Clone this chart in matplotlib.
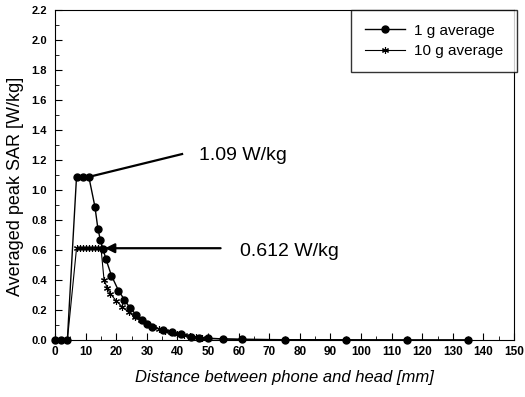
import matplotlib
matplotlib.use("Agg")
from matplotlib import pyplot as plt
from matplotlib.ticker import MultipleLocator, FormatStrFormatter

plt.rcParams['font.family'] = ['Liberation Sans', 'DejaVu Sans']

# 1 g average
x1 = [0, 2, 4, 7, 9, 11, 13, 14, 14.8, 15.6, 16.6, 18.4, 20.7, 22.6, 24.6, 26.6,
      28.4, 30, 31.7, 35.3, 38.2, 41, 44.3, 47, 50, 55, 61, 75, 95, 115, 135]
y1 = [0, 0, 0, 1.09, 1.09, 1.09, 0.89, 0.74, 0.667, 0.61, 0.54, 0.43, 0.33, 0.27,
      0.21, 0.167, 0.133, 0.107, 0.089, 0.067, 0.056, 0.04, 0.022, 0.016, 0.01,
      0.006, 0.004, 0.002, 0.001, 0, 0]

# 10 g average
x10 = [0, 2, 4, 7, 8, 9, 10, 11, 12, 13, 14, 15, 16, 17, 18, 20, 22, 24, 26, 28,
       30, 32, 34, 36, 38, 40, 42, 44, 46, 48, 50, 55, 61, 75, 95, 115, 135]
y10 = [0, 0, 0, 0.612, 0.612, 0.612, 0.612, 0.612, 0.612, 0.612, 0.612, 0.612,
       0.40, 0.35, 0.31, 0.26, 0.22, 0.185, 0.155, 0.13, 0.105, 0.088, 0.072,
       0.06, 0.05, 0.04, 0.032, 0.026, 0.02, 0.016, 0.013, 0.008, 0.005, 0.002,
       0.001, 0, 0]

fig = plt.figure(figsize=(5.25, 3.97), dpi=100)
ax = fig.add_axes([0.105, 0.1436, 0.874, 0.831])

ax.plot(x1, y1, color="black", lw=1, marker="o", ms=5, label="1 g average", clip_on=False)
ax.plot(x10, y10, color="black", lw=0.8, marker=(6, 2, 0), ms=5, mew=0.8,
        label="10 g average", clip_on=False)

ax.set_xlim(0, 150)
ax.set_ylim(0, 2.2)
ax.xaxis.set_major_locator(MultipleLocator(10))
ax.xaxis.set_minor_locator(MultipleLocator(5))
ax.yaxis.set_major_locator(MultipleLocator(0.2))
ax.yaxis.set_minor_locator(MultipleLocator(0.1))
ax.tick_params(which="both", direction="in", top=False, right=False)
ax.tick_params(which="major", length=5)
ax.tick_params(which="minor", length=3)
ax.tick_params(axis="x", labelsize=8.5, pad=4)
ax.tick_params(axis="y", labelsize=8, pad=6)
ax.yaxis.set_major_formatter(FormatStrFormatter("%.1f"))
for lab in ax.get_xticklabels() + ax.get_yticklabels():
    lab.set_fontweight("bold")

ax.set_xlabel("Distance between phone and head [mm]", fontsize=12, style="italic", labelpad=9)
ax.set_ylabel("Averaged peak SAR [W/kg]", fontsize=13)
ax.yaxis.set_label_coords(-0.067, 0.467)

ax.plot([11.5, 41.5], [1.09, 1.24], color="black", lw=1.6)
ax.text(47, 1.23, "1.09 W/kg", fontsize=14, va="center", ha="left")
ax.annotate("", xy=(15.4, 0.612), xytext=(55, 0.612),
            arrowprops=dict(arrowstyle="-|>", color="black", lw=1.6, mutation_scale=14))
ax.text(60.5, 0.59, "0.612 W/kg", fontsize=14, va="center", ha="left")

leg = ax.legend(loc="upper right", bbox_to_anchor=(1.006, 1.0), fontsize=11,
                frameon=True, fancybox=False, edgecolor="black", borderaxespad=0,
                handlelength=2.6, handletextpad=0.6, borderpad=0.9, labelspacing=0.4)
leg.get_frame().set_linewidth(1)

fig.savefig("out.png", dpi=100)
